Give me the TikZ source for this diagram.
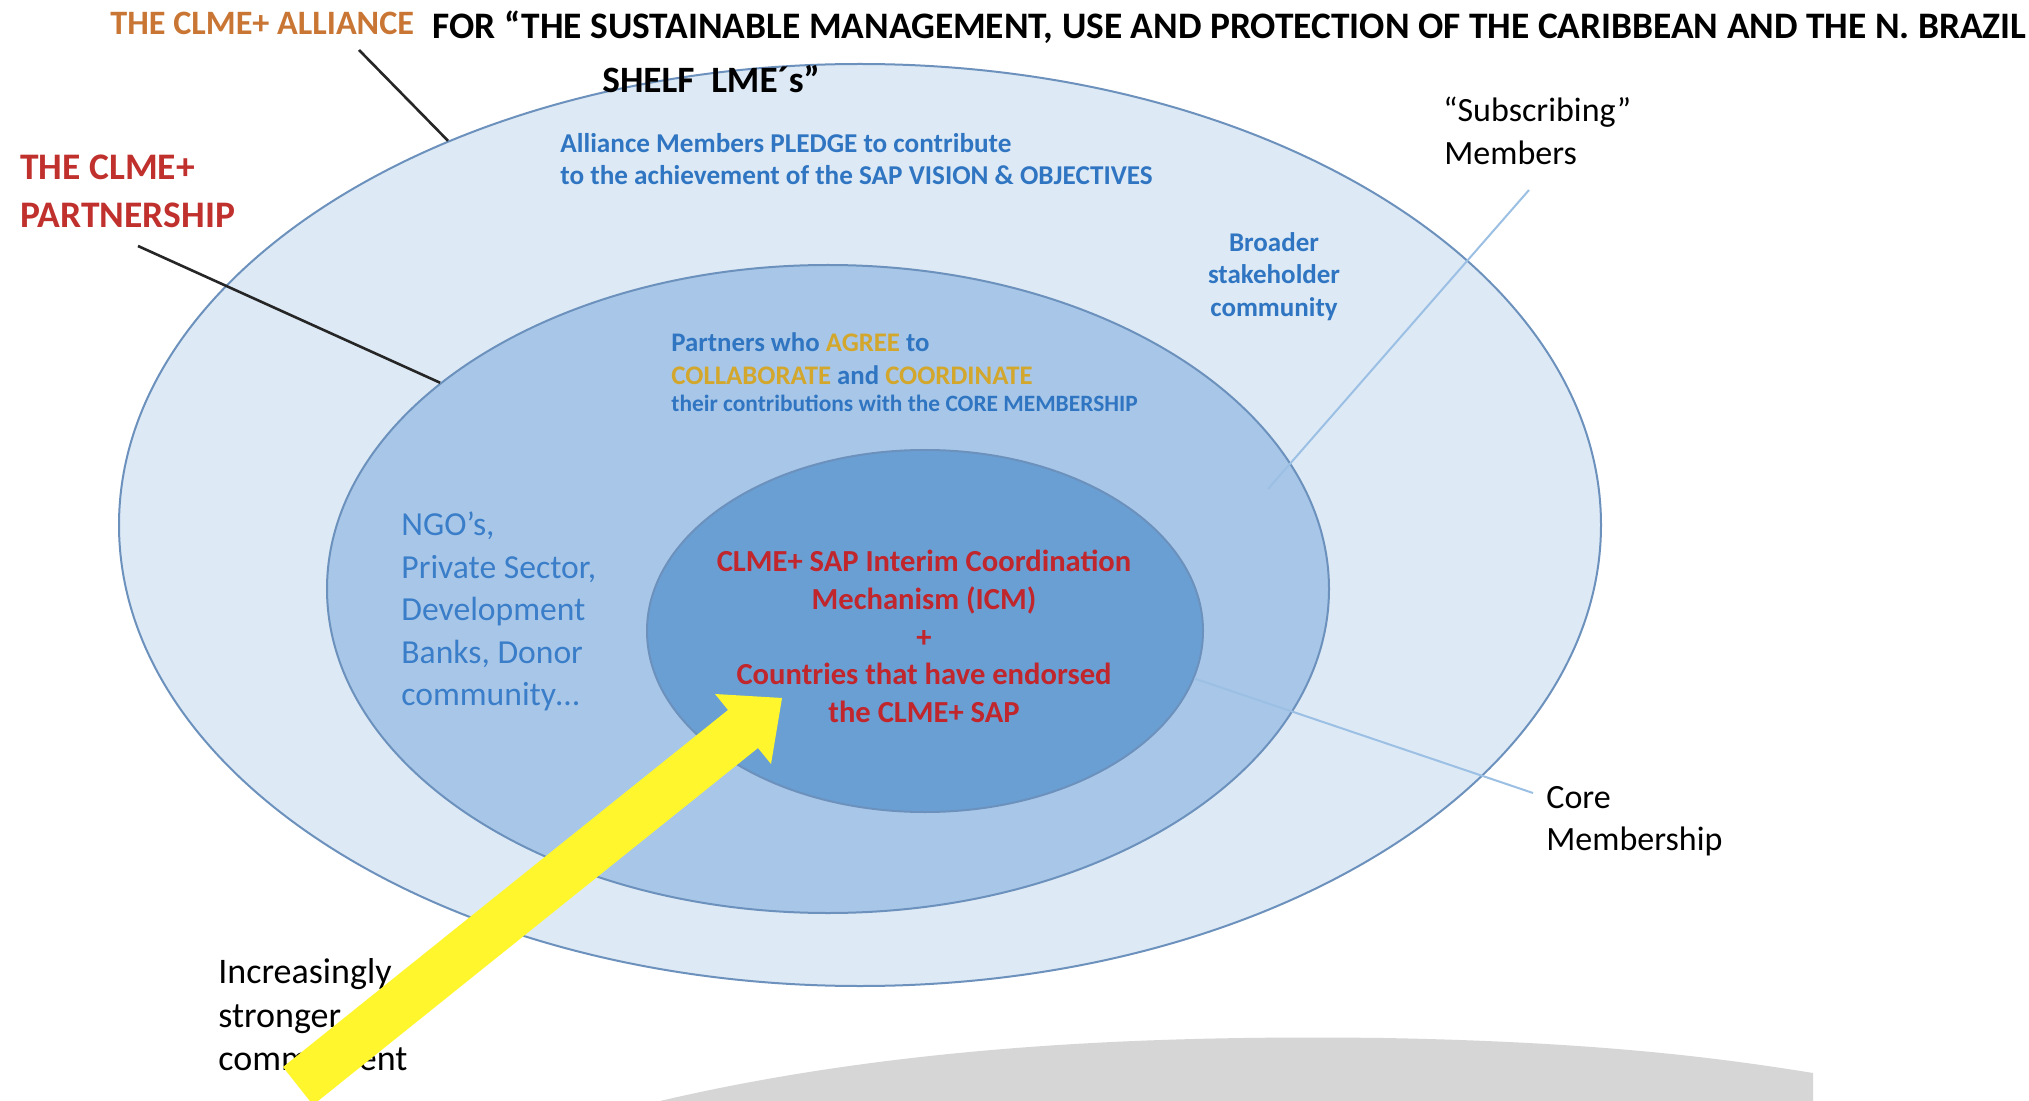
\documentclass[tikz,border=0pt]{standalone}
\usepackage{fontspec}
\setmainfont{Carlito}
\usetikzlibrary{shapes.geometric}
\definecolor{outerfill}{HTML}{DDEAF6}
\definecolor{midfill}{HTML}{A8C7E8}
\definecolor{innerfill}{HTML}{6A9FD4}
\definecolor{ringline}{HTML}{6C91BD}
\definecolor{txtblue}{HTML}{2F75C1}
\definecolor{ngoblue}{HTML}{3A7DC8}
\definecolor{gold}{HTML}{D3A62C}
\definecolor{corered}{HTML}{C0262C}
\definecolor{partred}{HTML}{C0312E}
\definecolor{allorange}{HTML}{C97634}
\definecolor{leaderblue}{HTML}{9CBFE4}
\definecolor{arrowyellow}{HTML}{FFF62E}
\definecolor{floorgray}{HTML}{D6D6D6}
\newcommand{\setfs}[1]{\fontsize{#1}{#1}\selectfont}
\begin{document}
\begin{tikzpicture}[x=0.5pt,y=-0.5pt,
  ring/.style={ellipse, draw=ringline, line width=1pt, inner sep=0pt},
  lbl/.style={inner sep=0pt, anchor=base west},
  lblc/.style={inner sep=0pt, anchor=base},
  leader/.style={line width=1.3pt, draw=black!85},
  softleader/.style={line width=1pt, draw=leaderblue}]
\useasboundingbox (0,0) rectangle (2029,1101);
\fill[white] (0,0) rectangle (2029,1101);

% grey floor
\fill[floorgray] (660,1101) .. controls (900,1045) and (1150,1035) .. (1384,1038)
  .. controls (1600,1042) and (1720,1058) .. (1813,1073) -- (1813,1101) -- cycle;

% rings
\node[ring, fill=outerfill, minimum width=741pt, minimum height=461pt] (outer) at (860,525) {};
\node[ring, fill=midfill, minimum width=501pt, minimum height=324pt] (mid) at (828,589) {};
\node[ring, fill=innerfill, minimum width=278pt, minimum height=181pt] (inner) at (925,631) {};

% titles
\node[lbl] (title1) at (432,39) {\setfs{18.7pt}\bfseries FOR “THE SUSTAINABLE MANAGEMENT, USE AND PROTECTION OF THE CARIBBEAN AND THE N. BRAZIL};
\node[lbl] (title2) at (602,93) {\setfs{18.6pt}\bfseries SHELF\ \ LME´s”};
\node[lbl, text=allorange] (alliance) at (110,35) {\setfs{17.1pt}\bfseries THE CLME+ ALLIANCE};
\node[lbl, text=partred] (part1) at (20,180) {\setfs{18.75pt}\bfseries THE CLME+};
\node[lbl, text=partred] (part2) at (20,228) {\setfs{18.75pt}\bfseries PARTNERSHIP};

% leader lines
\coordinate (allianceend) at (359,50);
\draw[leader] (allianceend) -- (outer.137.2);
\coordinate (partend) at (138,246);
\draw[leader] (partend) -- (mid.152.7);
\coordinate (subA) at (1529,190);
\coordinate (subB) at (1268,489);
\draw[softleader] (subA) -- (subB);
\coordinate (coreend) at (1533,793);
\draw[softleader] (inner.350.8) -- (coreend);

% outer ring text
\node[lbl, text=txtblue] (pledge1) at (560,153) {\setfs{13.6pt}\bfseries Alliance Members PLEDGE to contribute};
\node[lbl, text=txtblue] (pledge2) at (560,185) {\setfs{13.6pt}\bfseries to the achievement of the SAP VISION \& OBJECTIVES};
\node[lblc, text=txtblue] (broad1) at (1274,252) {\setfs{13.5pt}\bfseries Broader};
\node[lblc, text=txtblue] (broad2) at (1274,284) {\setfs{13.5pt}\bfseries stakeholder};
\node[lblc, text=txtblue] (broad3) at (1274,317) {\setfs{13.5pt}\bfseries community};

% middle ring text
\node[lbl, text=txtblue] (agree1) at (671,352) {\setfs{13.4pt}\bfseries Partners who \textcolor{gold}{AGREE} to};
\node[lbl, text=txtblue] (agree2) at (671,385) {\setfs{13.4pt}\bfseries \textcolor{gold}{COLLABORATE} and \textcolor{gold}{COORDINATE}};
\node[lbl, text=txtblue] (agree3) at (671,412) {\setfs{11.7pt}\bfseries their contributions with the CORE MEMBERSHIP};
\node[lbl, text=ngoblue] (ngo1) at (401,535) {\setfs{16.8pt}NGO’s,};
\node[lbl, text=ngoblue] (ngo2) at (401,578) {\setfs{16.8pt}Private Sector,};
\node[lbl, text=ngoblue] (ngo3) at (401,620) {\setfs{16.8pt}Development};
\node[lbl, text=ngoblue] (ngo4) at (401,663) {\setfs{16.8pt}Banks, Donor};
\node[lbl, text=ngoblue] (ngo5) at (401,705) {\setfs{16.8pt}community…};

% inner ring text
\node[lblc, text=corered] (core1) at (924,571) {\setfs{15.3pt}\bfseries CLME+ SAP Interim Coordination};
\node[lblc, text=corered] (core2) at (924,609) {\setfs{15.3pt}\bfseries Mechanism (ICM)};
\node[lblc, text=corered] (core3) at (924,647) {\setfs{15.3pt}\bfseries +};
\node[lblc, text=corered] (core4) at (924,684) {\setfs{15.3pt}\bfseries Countries that have endorsed};
\node[lblc, text=corered] (core5) at (924,722) {\setfs{15.3pt}\bfseries the CLME+ SAP};

% outside labels
\node[lbl] (subs1) at (1443,122) {\setfs{17pt}“Subscribing”};
\node[lbl] (subs2) at (1444,165) {\setfs{17pt}Members};
\node[lbl] (coremem1) at (1546,808) {\setfs{17pt}Core};
\node[lbl] (coremem2) at (1546,850) {\setfs{17pt}Membership};
\node[lbl] (incr1) at (218,983) {\setfs{18pt}Increasingly};
\node[lbl] (incr2) at (218,1027) {\setfs{18pt}stronger};
\node[lbl] (incr3) at (218,1070) {\setfs{18pt}commitment};

% yellow commitment arrow
\fill[arrowyellow] (283,1067) -- (728,710) -- (715,694) -- (782,698) -- (771,764) -- (758,748) -- (313,1105) -- cycle;
\end{tikzpicture}
\end{document}
